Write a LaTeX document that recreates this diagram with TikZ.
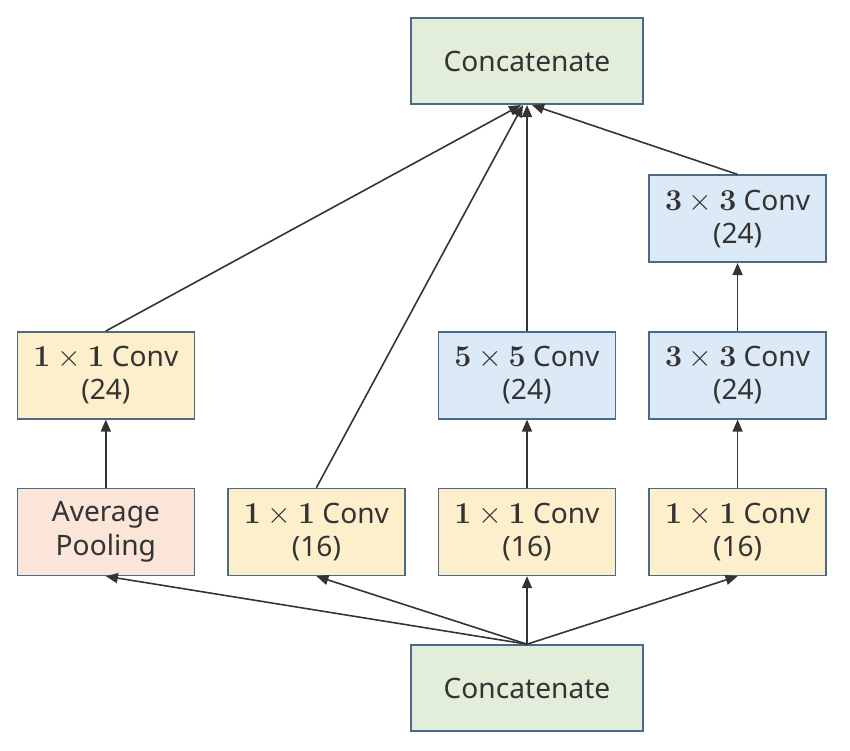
\documentclass[tikz,border=0pt]{standalone}
\usepackage{amsmath}
\usepackage[no-math]{fontspec}
\setmainfont{Noto Sans}
\usetikzlibrary{positioning, arrows.meta}

\definecolor{edgeblue}{HTML}{4B6A88}
\definecolor{linegray}{HTML}{333333}
\definecolor{catgreen}{HTML}{E2EED9}
\definecolor{convyellow}{HTML}{FDEFCC}
\definecolor{convblue}{HTML}{DCE9F6}
\definecolor{poolpink}{HTML}{FBE4D8}

\begin{document}
\begin{tikzpicture}[
    >={Triangle[length=2.4mm, width=2mm]},
    node distance=1.36cm and 0.64cm,
    blk/.style={draw=edgeblue, line width=0.9pt, text=linegray,
                minimum width=3.54cm, minimum height=1.74cm,
                align=center, font=\fontsize{16}{19}\selectfont},
    cat/.style={blk, fill=catgreen, minimum width=4.64cm, minimum height=1.72cm},
    c1/.style={blk, fill=convyellow},
    c3/.style={blk, fill=convblue},
    pool/.style={blk, fill=poolpink},
    flow/.style={->, draw=linegray, line width=0.9pt}
]
\useasboundingbox (0,0) rectangle (17,15.02);

%---------------- input ----------------
\node[cat] (catIn) at (10.54,1.26) {Concatenate};

%---------------- first row ----------------
\node[c1, above=of catIn] (convB) {$\mathbf{1}\times\mathbf{1}$ Conv\\(16)};
\node[c1, left=of convB] (convA) {$\mathbf{1}\times\mathbf{1}$ Conv\\(16)};
\node[pool, left=of convA] (avgPool) {Average\\Pooling};
\node[c1, right=of convB] (convC) {$\mathbf{1}\times\mathbf{1}$ Conv\\(16)};

%---------------- second row ----------------
\node[c1, above=of avgPool] (poolConv) {$\mathbf{1}\times\mathbf{1}$ Conv\\(24)};
\node[c3, above=of convB] (conv5) {$\mathbf{5}\times\mathbf{5}$ Conv\\(24)};
\node[c3, above=of convC] (conv3a) {$\mathbf{3}\times\mathbf{3}$ Conv\\(24)};
\node[c3, above=1.36cm of conv3a] (conv3b) {$\mathbf{3}\times\mathbf{3}$ Conv\\(24)};

%---------------- output ----------------
\node[cat, above=4.52cm of conv5] (catOut) {Concatenate};

%---------------- connectors ----------------
\draw[flow] (catIn.north) -- (avgPool.south);
\draw[flow] (catIn.north) -- (convA.south);
\draw[flow] (catIn.north) -- (convB.south);
\draw[flow] (catIn.north) -- (convC.south);

\draw[flow] (avgPool) -- (poolConv);
\draw[flow] (convB) -- (conv5);
\draw[flow] (convC) -- (conv3a);
\draw[flow] (conv3a) -- (conv3b);

\draw[flow] (poolConv.north) -- ([xshift=-0.12cm]catOut.south);
\draw[flow] (convA.north) -- ([xshift=-0.08cm]catOut.south);
\draw[flow] (conv5.north) -- (catOut.south);
\draw[flow] (conv3b.north) -- ([xshift=0.1cm]catOut.south);

\end{tikzpicture}
\end{document}
